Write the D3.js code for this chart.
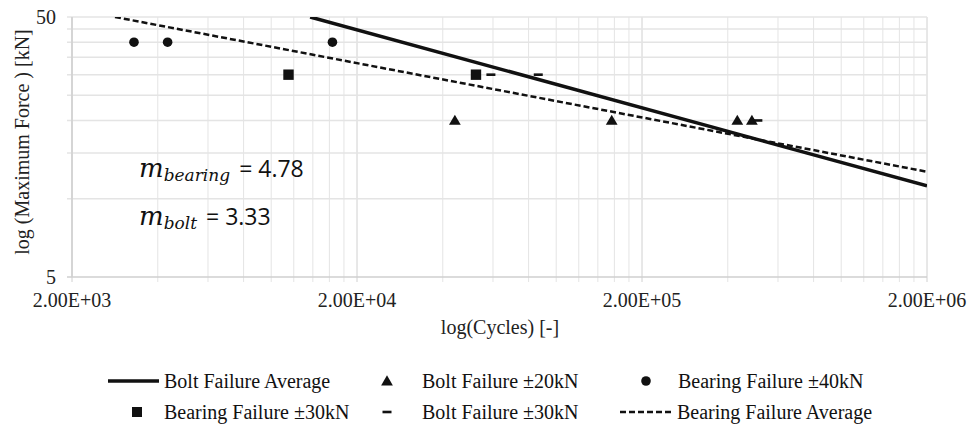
<!DOCTYPE html>
<html><head><meta charset="utf-8">
<script src="https://cdn.jsdelivr.net/npm/d3@7"></script>
<style>body{margin:0;background:#fff}svg{display:block}</style>
</head><body>
<svg id="c" width="968" height="427"></svg>
<script>
// ---- data ----
const xTicks = [2000, 20000, 200000, 2000000];
const xTickLabels = ["2.00E+03", "2.00E+04", "2.00E+05", "2.00E+06"];
const yTicks = [5, 50];
const yTickLabels = ["5", "50"];
const yGrid = [10, 15, 20, 25, 30, 35, 40, 45, 50];
const bearing40N = [3300, 4330, 16400];
const bearing40F = [40, 40, 40];
const bearing30N = [11500, 52300];
const bearing30F = [30, 30];
const bolt20N = [44100, 156600, 432000, 486000];
const bolt20F = [20, 20, 20, 20];
const bolt30N = [59000, 86500, 510000];
const bolt30F = [30, 30, 20];
const boltAvgN = [13700, 2000000];
const boltAvgF = [50, 11.2];
const bearingAvgN = [2830, 2000000];
const bearingAvgF = [50, 12.7];
const mBearing = "4.78";
const mBolt = "3.33";

const svg = d3.select("#c");
const L = 72, R = 927, T = 17, B = 277;
const x = d3.scaleLog().domain([2000, 2000000]).range([L, R]);
const y = d3.scaleLog().domain([5, 50]).range([B, T]);
const serif = "'Liberation Serif','Times New Roman',serif";
const FS = 20;

// x minor grid
const xGrid = [];
for (let d = 2000; d < 2000000; d *= 10) for (let k = 1; k <= 9; k++) xGrid.push(d * k);
xGrid.push(2000000);
const g = svg.append("g");
g.selectAll(".vx").data(xGrid).join("line")
  .attr("x1", d => x(d)).attr("x2", d => x(d)).attr("y1", T).attr("y2", B + 5)
  .attr("stroke", d => xTicks.includes(d) ? "#d0d0d0" : "#e4e4e4").attr("stroke-width", 1);
g.selectAll(".hy").data(yGrid).join("line")
  .attr("x1", L - 5).attr("x2", R).attr("y1", d => y(d)).attr("y2", d => y(d))
  .attr("stroke", "#e4e4e4").attr("stroke-width", 1.5);
g.append("line").attr("x1", L).attr("x2", L).attr("y1", T).attr("y2", B).attr("stroke", "#cfcfcf").attr("stroke-width", 1.5);
g.append("line").attr("x1", L - 5).attr("x2", R).attr("y1", B).attr("y2", B).attr("stroke", "#cfcfcf").attr("stroke-width", 1.5);

// tick labels
svg.selectAll(".xl").data(xTicks).join("text")
  .attr("x", d => x(d)).attr("y", 307).attr("text-anchor", "middle")
  .attr("font-family", serif).attr("font-size", FS).attr("fill", "#222")
  .text((d, i) => xTickLabels[i]);
svg.selectAll(".yl").data(yTicks).join("text")
  .attr("x", 56).attr("y", d => y(d) + 6.5).attr("text-anchor", "end")
  .attr("font-family", serif).attr("font-size", FS).attr("fill", "#222")
  .text((d, i) => yTickLabels[i]);
svg.append("text").attr("x", 500).attr("y", 334).attr("text-anchor", "middle")
  .attr("font-family", serif).attr("font-size", FS).attr("fill", "#222").text("log(Cycles) [-]");
svg.append("text").attr("transform", "translate(29,142) rotate(-90)").attr("text-anchor", "middle")
  .attr("font-family", serif).attr("font-size", FS).attr("fill", "#222").text("log (Maximum Force ) [kN]");

// clip
svg.append("clipPath").attr("id", "pc").append("rect").attr("x", L).attr("y", T).attr("width", R - L).attr("height", B - T);
const p = svg.append("g").attr("clip-path", "url(#pc)");
const line = d3.line().x(d => x(d[0])).y(d => y(d[1]));
p.append("path").attr("d", line(boltAvgN.map((n, i) => [n, boltAvgF[i]])))
  .attr("fill", "none").attr("stroke", "#111").attr("stroke-width", 3.5);
p.append("path").attr("d", line(bearingAvgN.map((n, i) => [n, bearingAvgF[i]])))
  .attr("fill", "none").attr("stroke", "#111").attr("stroke-width", 2.5).attr("stroke-dasharray", "6,3");

const tri = d3.symbol().type(d3.symbolTriangle).size(60);
const mk = svg.append("g").attr("fill", "#111");
mk.selectAll(".c").data(bearing40N).join("circle")
  .attr("cx", d => x(d)).attr("cy", (d, i) => y(bearing40F[i])).attr("r", 4.8);
mk.selectAll(".s").data(bearing30N).join("rect")
  .attr("x", d => x(d) - 5.2).attr("y", (d, i) => y(bearing30F[i]) - 5.2).attr("width", 10.4).attr("height", 10.4);
mk.selectAll(".t").data(bolt20N).join("path")
  .attr("d", tri).attr("transform", (d, i) => `translate(${x(d)},${y(bolt20F[i]) + 1})`);
mk.selectAll(".d").data(bolt30N).join("rect")
  .attr("x", d => x(d) - 4.5).attr("y", (d, i) => y(bolt30F[i]) - 1.3).attr("width", 9).attr("height", 2.6);

// annotations
function mtext(yy, sub, val) {
  const t = svg.append("text").attr("x", 139).attr("y", yy).attr("fill", "#111");
  t.append("tspan").attr("font-family", "'DejaVu Serif',serif").attr("font-style", "italic").attr("font-size", 26).text("m");
  t.append("tspan").attr("font-family", "'DejaVu Serif',serif").attr("font-style", "italic").attr("font-size", 17).attr("dy", 4).text(sub);
  t.append("tspan").attr("font-family", "'Open Sans',sans-serif").attr("font-size", 23).attr("dy", -4).attr("dx", 9).text("= " + val);
}
mtext(177, "bearing", mBearing);
mtext(225, "bolt", mBolt);

// legend
const lg = svg.append("g").attr("font-family", serif).attr("font-size", FS).attr("fill", "#111");
const r1 = 381, r2 = 412, bo = 6.5;
lg.append("line").attr("x1", 108).attr("x2", 159).attr("y1", r1).attr("y2", r1).attr("stroke", "#111").attr("stroke-width", 3.5);
lg.append("text").attr("x", 164).attr("y", r1 + bo).text("Bolt Failure Average");
lg.append("path").attr("d", tri).attr("transform", `translate(387,${r1 + 1})`);
lg.append("text").attr("x", 422).attr("y", r1 + bo).text("Bolt Failure \u00b120kN");
lg.append("circle").attr("cx", 646).attr("cy", r1).attr("r", 4.8);
lg.append("text").attr("x", 678).attr("y", r1 + bo).text("Bearing Failure \u00b140kN");
lg.append("rect").attr("x", 132).attr("y", r2 - 5).attr("width", 10).attr("height", 10);
lg.append("text").attr("x", 164).attr("y", r2 + bo).text("Bearing Failure \u00b130kN");
lg.append("rect").attr("x", 382.5).attr("y", r2 - 1.3).attr("width", 9).attr("height", 2.6);
lg.append("text").attr("x", 422).attr("y", r2 + bo).text("Bolt Failure \u00b130kN");
lg.append("line").attr("x1", 620).attr("x2", 672).attr("y1", r2).attr("y2", r2).attr("stroke", "#111").attr("stroke-width", 2.5).attr("stroke-dasharray", "6,3");
lg.append("text").attr("x", 677).attr("y", r2 + bo).text("Bearing Failure Average");
</script>
</body></html>
